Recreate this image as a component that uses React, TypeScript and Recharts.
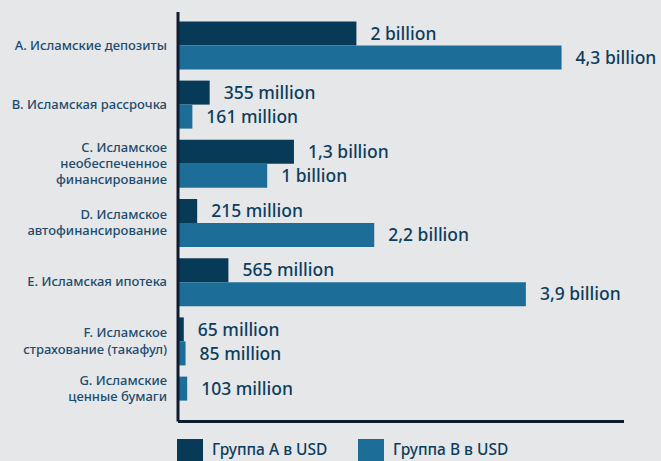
import React from "react";
import { Bar, BarChart, LabelList, Legend, Rectangle, XAxis, YAxis } from "recharts";

const categories = [
  "A. Исламские депозиты",
  "B. Исламская рассрочка",
  "C. Исламское\nнеобеспеченное\nфинансирование",
  "D. Исламское\nавтофинансирование",
  "E. Исламская ипотека",
  "F. Исламское\nстрахование (такафул)",
  "G. Исламские\nценные бумаги",
];

// USD, billions
const groupA: (number | null)[] = [2, 0.355, 1.3, 0.215, 0.565, 0.065, null];
const groupB: (number | null)[] = [4.3, 0.161, 1, 2.2, 3.9, 0.085, 0.103];

const seriesNames = ["Группа A в USD", "Группа B в USD"];

const DARK = "#073a57";
const BLUE = "#1c6e98";
const AXIS = "#0f1c30";
const TEXT = "#0c3d5c";
const BAR_SIZE = 24;

const data = categories.map((name, i) => ({ name, a: groupA[i], b: groupB[i] }));

function fmt(v: number) {
  if (v >= 1) return `${String(v).replace(".", ",")} billion`;
  return `${Math.round(v * 1000)} million`;
}

// rows without a group A value draw their single bar in the first slot
const rowShift = (index: number) => (groupA[index] == null ? -BAR_SIZE : 0);

function CategoryTick(props: any) {
  const { x, y, payload, index } = props;
  const lines = String(payload.value).split("\n");
  const lh = 16.3;
  const shift = groupA[index] == null ? -BAR_SIZE / 2 : 0;
  const top = y - ((lines.length - 1) * lh) / 2 + shift;
  return (
    <text x={x} y={top} textAnchor="end" fill="#1d4c6d" fontSize={13} fontWeight={500}>
      {lines.map((l, i) => (
        <tspan key={i} x={x} y={top + i * lh} dy="0.35em">
          {l}
        </tspan>
      ))}
    </text>
  );
}

const valueLabel = (series: "a" | "b") => (props: any) => {
  const { x, y, width, height, value, index } = props;
  if (value == null) return null;
  const shift = series === "b" ? rowShift(index) : 0;
  return (
    <text
      x={x + width + 14}
      y={y + height / 2 + shift}
      dy="0.35em"
      fill={TEXT}
      fontSize={17.5}
      fontWeight={500}
    >
      {fmt(value)}
    </text>
  );
};

function BarB(props: any) {
  return <Rectangle {...props} y={props.y + rowShift(props.index)} />;
}

function LegendBox() {
  const colors = [DARK, BLUE];
  return (
    <div style={{ display: "flex", paddingLeft: 177, height: 26 }}>
      {seriesNames.map((n, i) => (
        <div key={n} style={{ display: "flex", alignItems: "flex-start", width: 181 }}>
          <span style={{ width: 26, height: 26, background: colors[i], marginRight: 9, flexShrink: 0 }} />
          <span style={{ color: TEXT, fontSize: 15.5, fontWeight: 500, lineHeight: "21px" }}>{n}</span>
        </div>
      ))}
    </div>
  );
}

export default function App() {
  return (
    <div
      style={{
        position: "absolute",
        left: 0,
        top: 0,
        width: 661,
        height: 461,
        overflow: "hidden",
        background: "#e6e7e9",
        fontFamily: "'Noto Sans', sans-serif",
      }}
    >
      <BarChart
        width={661}
        height={470}
        data={data}
        layout="vertical"
        barSize={BAR_SIZE}
        barGap={0}
        margin={{ top: 12, right: 37, bottom: 5, left: 0 }}
      >
        <XAxis
          type="number"
          domain={[0, 5]}
          tick={false}
          tickLine={false}
          height={17.5}
          axisLine={{ stroke: AXIS, strokeWidth: 3 }}
        />
        <YAxis
          type="category"
          dataKey="name"
          width={178}
          interval={0}
          tickLine={false}
          tickSize={0}
          tickMargin={11}
          tick={<CategoryTick />}
          padding={{ top: 3.4, bottom: -8.3 }}
          axisLine={{ stroke: AXIS, strokeWidth: 3 }}
        />
        <Legend verticalAlign="bottom" align="left" content={<LegendBox />} />
        <Bar dataKey="a" fill={DARK} isAnimationActive={false}>
          <LabelList dataKey="a" content={valueLabel("a")} />
        </Bar>
        <Bar dataKey="b" fill={BLUE} shape={<BarB />} isAnimationActive={false}>
          <LabelList dataKey="b" content={valueLabel("b")} />
        </Bar>
      </BarChart>
    </div>
  );
}
